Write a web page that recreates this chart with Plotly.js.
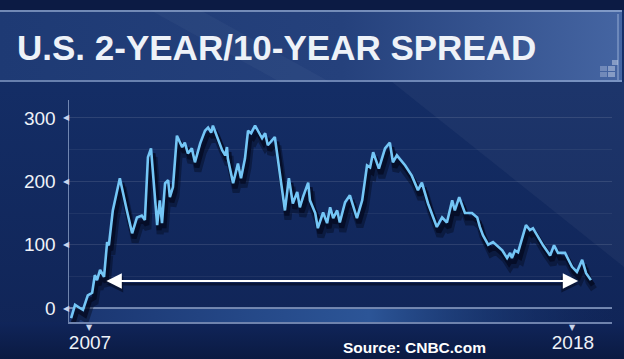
<!DOCTYPE html>
<html>
<head>
<meta charset="utf-8">
<script src="https://cdn.plot.ly/plotly-3.0.1.min.js"></script>
<style>html,body{margin:0;padding:0;background:#10245a;}#chart{width:624px;height:359px;}</style>
</head>
<body>
<div id="chart"></div>
<script>
// Spread in basis points, dates as decimal years
const dates = [2006.57,2006.66,2006.77,2006.84,2006.95,2007.05,2007.11,2007.16,2007.23,2007.32,
2007.39,2007.43,2007.52,2007.68,2007.84,2007.96,2008.07,2008.18,2008.25,2008.32,
2008.39,2008.44,2008.53,2008.59,2008.64,2008.71,2008.78,2008.82,2008.89,2008.98,
2009.10,2009.16,2009.23,2009.32,2009.39,2009.51,2009.62,2009.69,2009.76,2009.80,
2009.89,2010.01,2010.08,2010.12,2010.14,2010.26,2010.37,2010.44,2010.53,2010.60,
2010.67,2010.76,2010.92,2010.99,2011.05,2011.15,2011.21,2011.44,2011.53,2011.62,
2011.72,2011.78,2011.85,2011.97,2012.01,2012.13,2012.19,2012.31,2012.40,2012.47,
2012.54,2012.63,2012.69,2012.81,2012.92,2013.08,2013.20,2013.31,2013.38,2013.45,
2013.58,2013.72,2013.83,2013.90,2013.99,2014.18,2014.33,2014.47,2014.56,2014.70,
2014.90,2015.02,2015.13,2015.25,2015.31,2015.41,2015.54,2015.70,2015.82,2015.88,
2015.95,2016.07,2016.18,2016.39,2016.50,2016.57,2016.61,2016.68,2016.75,2016.93,
2017.02,2017.09,2017.32,2017.48,2017.57,2017.66,2017.82,2017.98,2018.09,2018.21,
2018.30,2018.41];
const spread = [-16,5,0,-3,20,24,52,44,60,49,
104,99,154,205,154,118,143,146,139,238,
252,206,131,170,134,197,202,175,191,272,
254,261,244,252,230,260,280,285,277,288,
272,249,241,254,236,197,228,205,236,280,
276,288,268,276,257,265,270,154,205,165,
183,159,175,198,170,150,126,151,134,159,
142,154,135,167,178,142,170,225,222,246,
220,252,261,230,241,225,209,186,198,165,
128,143,135,170,154,175,150,150,143,128,
115,100,104,91,79,87,79,91,88,131,
123,126,99,83,99,87,87,65,57,76,
55,44];
const yTicks = [0,100,200,300];
const yTickText = ['0','100','200','300'];
const xTicks = [2007,2018];
const xTickText = ['2007','2018'];
const arrowLevel = 42.6;
const arrowStart = 2007.34;
const arrowEnd = 2018.12;

const xr = [2006.522, 2018.89];
const yr = [-22.1, 328.4];
const pxX = (xr[1]-xr[0])/543, pxY = (yr[1]-yr[0])/222;
function shiftX(dx){return [xr[0]-dx*pxX, xr[1]-dx*pxX];}
function shiftY(dy){return [yr[0]+dy*pxY, yr[1]+dy*pxY];}

const svg = `<svg xmlns='http://www.w3.org/2000/svg' width='624' height='359'>
<defs>
<linearGradient id='bg' x1='0' y1='0' x2='0' y2='1'><stop offset='0' stop-color='#15306a'/><stop offset='1' stop-color='#102456'/></linearGradient>
<linearGradient id='bn' x1='0' y1='0' x2='1' y2='0'><stop offset='0' stop-color='#1e3a74'/><stop offset='0.55' stop-color='#25417c'/><stop offset='1' stop-color='#4565a2'/></linearGradient>
<linearGradient id='band' x1='0' y1='0' x2='1' y2='0'><stop offset='0' stop-color='#1a3570'/><stop offset='0.55' stop-color='#2c5597'/><stop offset='1' stop-color='#13306a' stop-opacity='0'/></linearGradient>
<linearGradient id='bot' x1='0' y1='0' x2='0' y2='1'><stop offset='0' stop-color='#10255a'/><stop offset='1' stop-color='#0b1a42'/></linearGradient>
</defs>
<rect width='624' height='359' fill='url(#bg)'/>
<polygon points='392,82 624,82 624,267' fill='#ffffff' fill-opacity='0.04'/>
<rect x='0' y='0' width='624' height='10' fill='#0c1b44'/>
<rect x='0' y='322' width='624' height='37' fill='url(#bot)'/>
<rect x='69' y='309' width='545' height='13' fill='url(#band)'/>
<rect x='0' y='10' width='622' height='72' fill='url(#bn)'/>
<polygon points='150,10 200,10 330,82 280,82' fill='#ffffff' fill-opacity='0.03'/>
<line x1='0' y1='11' x2='622' y2='11' stroke='#a9bfe2' stroke-opacity='0.8' stroke-width='1.5'/>
<line x1='0' y1='81' x2='622' y2='81' stroke='#a9bfe2' stroke-opacity='0.7' stroke-width='1.5'/>
<line x1='618' y1='14' x2='618' y2='80' stroke='#a9bfe2' stroke-opacity='0.4' stroke-width='2'/>
<rect x='600' y='66' width='7' height='5' fill='#c8d4ea' fill-opacity='0.35'/>
<rect x='608' y='66' width='7' height='5' fill='#c8d4ea' fill-opacity='0.5'/>
<rect x='600' y='72' width='7' height='5' fill='#c8d4ea' fill-opacity='0.35'/>
<rect x='608' y='72' width='7' height='5' fill='#c8d4ea' fill-opacity='0.5'/>
<rect x='612' y='60' width='6' height='5' fill='#c8d4ea' fill-opacity='0.5'/>
</svg>`;

const font = 'Liberation Sans, Arial, sans-serif';

const traces = [
  {x: dates, y: spread, type:'scatter', mode:'lines', xaxis:'x2', yaxis:'y2',
   line:{color:'rgba(4,10,32,0.45)', width:7}, hoverinfo:'skip'},
  {x: dates, y: spread, type:'scatter', mode:'lines', xaxis:'x3', yaxis:'y3',
   line:{color:'rgba(4,10,32,0.75)', width:5}, hoverinfo:'skip'},
  {x: dates, y: spread, type:'scatter', mode:'lines', xaxis:'x4', yaxis:'y4',
   line:{color:'#74c6f6', width:2.6}, hoverinfo:'skip'}
];

const annotations = [
  {xref:'paper', yref:'paper', x:(15-69)/543, y:(322-48)/222, xanchor:'left', yanchor:'middle',
   text:'<b>U.S. 2-YEAR/10-YEAR SPREAD</b>', showarrow:false,
   font:{family:font, size:35, color:'#eef2f8'}},
  {xref:'paper', yref:'paper', x:(414-69)/543, y:(322-347)/222, xanchor:'center', yanchor:'middle',
   text:'<b>Source: CNBC.com</b>', showarrow:false,
   font:{family:font, size:15.5, color:'#ffffff'}},
  {x:arrowEnd, y:arrowLevel-5, ax:arrowStart, ay:arrowLevel-5, xref:'x', yref:'y', axref:'x', ayref:'y',
   text:'', showarrow:true, arrowside:'end+start', arrowhead:2, arrowsize:1.4, arrowwidth:2.4,
   arrowcolor:'rgba(3,8,28,0.55)', standoff:0, startstandoff:0},
  {x:arrowEnd, y:arrowLevel, ax:arrowStart, ay:arrowLevel, xref:'x', yref:'y', axref:'x', ayref:'y',
   text:'', showarrow:true, arrowside:'end+start', arrowhead:2, arrowsize:1.4, arrowwidth:2.2,
   arrowcolor:'#ffffff', standoff:0, startstandoff:0}
];
yTicks.forEach(v => annotations.push({xref:'paper', yref:'y', x:(66-69)/543, y:v, xanchor:'center', yanchor:'middle',
  text:'◀', showarrow:false, font:{family:'DejaVu Sans', size:8, color:'#c9d4ea'}}));
xTicks.forEach(v => annotations.push({xref:'x', yref:'paper', x:v, y:(322-327)/222, xanchor:'center', yanchor:'middle',
  text:'▼', showarrow:false, font:{family:'DejaVu Sans', size:8, color:'#c9d4ea'}}));

const hidden = {visible:false, fixedrange:true};
const layout = {
  width:624, height:359,
  margin:{l:69, r:12, t:100, b:37, pad:0},
  paper_bgcolor:'#10245a', plot_bgcolor:'rgba(0,0,0,0)',
  showlegend:false,
  font:{family:font, color:'#eef2f8'},
  images:[{source:'data:image/svg+xml;charset=utf-8,'+encodeURIComponent(svg),
    xref:'paper', yref:'paper', x:-69/543, y:322/222, sizex:624/543, sizey:359/222,
    xanchor:'left', yanchor:'top', sizing:'stretch', layer:'below'}],
  xaxis:{range:xr, tickvals:xTicks, ticktext:xTickText, ticks:'', showgrid:false, zeroline:false,
    showline:true, linecolor:'rgba(175,195,230,0.6)', linewidth:1.5,
    tickfont:{family:font, size:19, color:'#eef2f8'}, ticklabelstandoff:3},
  yaxis:{range:yr, tickvals:yTicks, ticktext:yTickText, ticks:'',
    showgrid:true, gridcolor:'rgba(255,255,255,0.06)',
    minor:{dtick:50, showgrid:true, gridcolor:'rgba(255,255,255,0.06)'},
    zeroline:true, zerolinecolor:'rgba(175,195,230,0.6)', zerolinewidth:1.5,
    showline:true, linecolor:'rgba(175,195,230,0.6)', linewidth:1.5,
    tickfont:{family:font, size:19, color:'#eef2f8'}, ticklabelstandoff:8},
  xaxis2:Object.assign({overlaying:'x', range:shiftX(3)}, hidden),
  yaxis2:Object.assign({overlaying:'y', range:shiftY(9)}, hidden),
  xaxis3:Object.assign({overlaying:'x', range:shiftX(2)}, hidden),
  yaxis3:Object.assign({overlaying:'y', range:shiftY(5)}, hidden),
  xaxis4:Object.assign({overlaying:'x', range:xr}, hidden),
  yaxis4:Object.assign({overlaying:'y', range:yr}, hidden),
  annotations:annotations
};
Plotly.newPlot('chart', traces, layout, {displayModeBar:false, staticPlot:true});
</script>
</body>
</html>
